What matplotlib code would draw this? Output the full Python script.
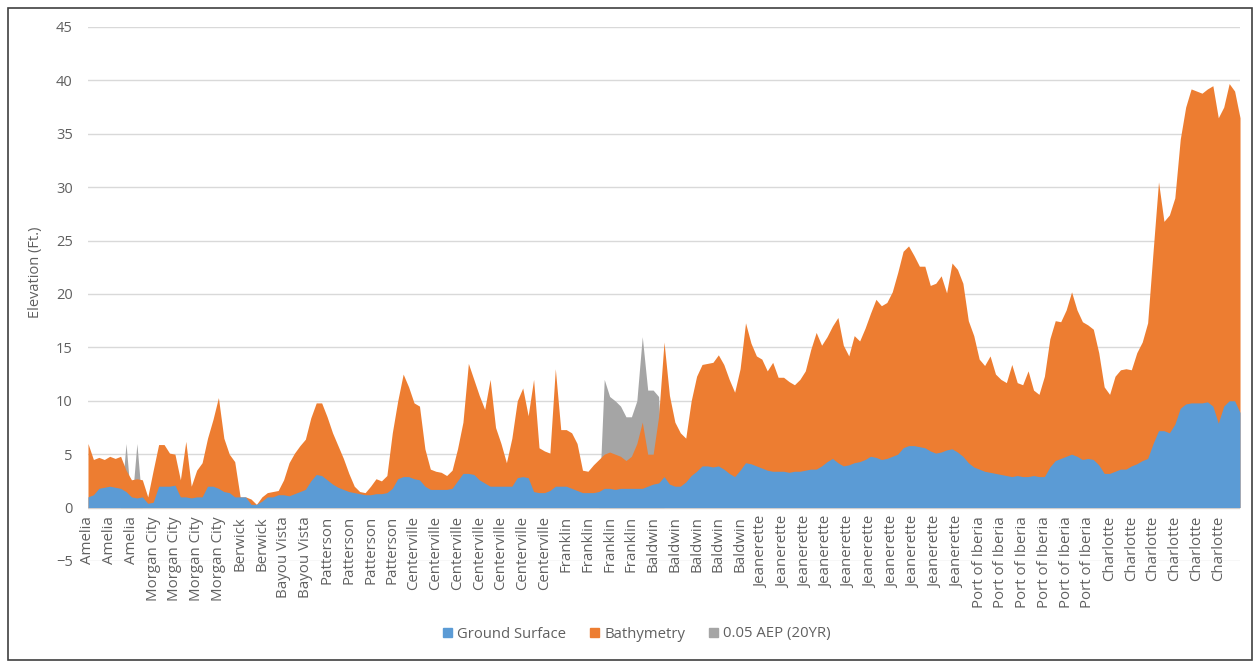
import matplotlib
matplotlib.use("Agg")
import matplotlib.pyplot as plt
import numpy as np
from matplotlib.patches import Rectangle, Patch

plt.rcParams['font.family'] = ['Open Sans', 'DejaVu Sans']

# Category labels (one every 4 samples)
tick_labels = (["Amelia"] * 3 + ["Morgan City"] * 4 + ["Berwick"] * 2 +
               ["Bayou Vista"] * 2 + ["Patterson"] * 4 + ["Centerville"] * 7 +
               ["Franklin"] * 4 + ["Baldwin"] * 5 + ["Jeanerette"] * 10 +
               ["Port of Iberia"] * 6 + ["Charlotte"] * 6)

# Total elevation (top of Bathymetry area), ft
bathymetry = [
    6.0, 4.5, 4.7, 4.5, 4.8, 4.6, 4.8, 3.5, 2.6, 2.7,
    2.6, 1.0, 3.5, 5.9, 5.9, 5.1, 5.0, 2.6, 6.2, 2.0,
    3.5, 4.2, 6.5, 8.25, 10.3, 6.5, 5.0, 4.3, 1.0, 1.0,
    0.8, 0.3, 1.0, 1.4, 1.5, 1.6, 2.6, 4.2, 5.1, 5.8,
    6.4, 8.4, 9.8, 9.8, 8.5, 7.0, 5.8, 4.6, 3.2, 2.0,
    1.5, 1.4, 2.0, 2.7, 2.5, 3.0, 7.0, 10.0, 12.5, 11.3,
    9.8, 9.5, 5.5, 3.6, 3.4, 3.3, 3.0, 3.5, 5.5, 8.0,
    13.5, 12.0, 10.5, 9.2, 12.0, 7.5, 6.0, 4.2, 6.5, 10.0,
    11.2, 8.6, 12.0, 5.6, 5.3, 5.1, 13.0, 7.3, 7.3, 7.0,
    6.0, 3.5, 3.4, 4.0, 4.5, 5.0, 5.2, 5.0, 4.8, 4.4,
    4.8, 6.0, 8.0, 5.0, 5.0, 8.5, 15.5, 10.5, 8.0, 7.0,
    6.5, 10.0, 12.3, 13.4, 13.5, 13.6, 14.3, 13.4, 12.0, 10.8,
    13.0, 17.3, 15.4, 14.2, 13.9, 12.8, 13.6, 12.2, 12.2, 11.8,
    11.5, 12.0, 12.8, 14.8, 16.4, 15.2, 16.0, 17.0, 17.8, 15.2,
    14.2, 16.1, 15.6, 16.8, 18.2, 19.5, 18.9, 19.2, 20.2, 22.0,
    24.0, 24.5, 23.6, 22.6, 22.6, 20.8, 21.0, 21.7, 20.1, 22.9,
    22.3, 21.0, 17.5, 16.1, 13.9, 13.3, 14.2, 12.5, 12.0, 11.7,
    13.4, 11.7, 11.5, 12.8, 11.0, 10.6, 12.3, 15.8, 17.5, 17.4,
    18.5, 20.2, 18.5, 17.4, 17.1, 16.7, 14.5, 11.3, 10.6, 12.3,
    12.9, 13.0, 12.9, 14.5, 15.5, 17.3, 24.0, 30.5, 26.8, 27.4,
    29.0, 34.5, 37.5, 39.2, 39.0, 38.8, 39.2, 39.5, 36.5, 37.5,
    39.7, 39.0, 36.5,
]

# Ground surface elevation, ft
ground_surface = [
    1.0, 1.2, 1.8, 1.9, 2.0, 1.9, 1.8, 1.5, 1.0, 0.9,
    1.0, 0.4, 0.5, 2.0, 2.0, 2.0, 2.1, 1.0, 1.0, 0.9,
    1.0, 1.0, 2.0, 2.0, 1.8, 1.5, 1.4, 1.0, 1.0, 1.0,
    0.3, 0.3, 0.6, 1.0, 1.0, 1.2, 1.2, 1.1, 1.3, 1.5,
    1.7, 2.5, 3.1, 3.0, 2.6, 2.2, 1.9, 1.7, 1.5, 1.4,
    1.3, 1.2, 1.2, 1.3, 1.3, 1.4, 1.8, 2.7, 2.9, 2.9,
    2.7, 2.6, 2.0, 1.7, 1.7, 1.7, 1.7, 1.8, 2.5, 3.2,
    3.2, 3.1, 2.6, 2.3, 2.0, 2.0, 2.0, 2.0, 2.0, 2.8,
    2.9, 2.8, 1.5, 1.4, 1.4, 1.6, 2.0, 2.0, 2.0, 1.8,
    1.6, 1.4, 1.4, 1.4, 1.5, 1.8, 1.8, 1.7, 1.8, 1.8,
    1.8, 1.8, 1.8, 2.0, 2.2, 2.3, 2.9, 2.2, 2.0, 2.0,
    2.4, 3.0, 3.4, 3.9, 3.9, 3.8, 3.9, 3.6, 3.2, 2.9,
    3.5, 4.2, 4.1, 3.9, 3.7, 3.5, 3.4, 3.4, 3.4, 3.3,
    3.4, 3.4, 3.5, 3.6, 3.6, 3.9, 4.3, 4.6, 4.2, 3.9,
    4.0, 4.2, 4.3, 4.5, 4.8, 4.7, 4.5, 4.6, 4.8, 5.0,
    5.6, 5.8, 5.8, 5.7, 5.6, 5.3, 5.1, 5.2, 5.4, 5.5,
    5.2, 4.8, 4.2, 3.8, 3.6, 3.4, 3.3, 3.2, 3.1, 3.0,
    2.9, 3.0, 2.9, 2.9, 3.0, 2.9, 2.9, 3.8, 4.4, 4.6,
    4.8, 5.0, 4.8, 4.5, 4.6, 4.5, 4.0, 3.2, 3.2, 3.4,
    3.6, 3.6, 3.9, 4.1, 4.4, 4.6, 6.0, 7.2, 7.2, 7.0,
    7.8, 9.3, 9.7, 9.8, 9.8, 9.8, 9.9, 9.5, 7.9, 9.5,
    10.0, 10.0, 8.9,
]

# 0.05 AEP (20YR) water surface, ft (only visible where above bathymetry)
aep_20yr = [0.0] * 213
aep_20yr[7] = 6.0
aep_20yr[9] = 6.0
aep_20yr[95:106] = [12.0, 10.4, 10.0, 9.5, 8.5, 8.5, 10.0, 16.0, 11.0, 11.0, 10.4]

yticks = list(range(-5, 50, 5))

fig = plt.figure(figsize=(12.57, 6.66), dpi=100)
ax = fig.add_axes([0.070, 0.1577, 0.9165, 0.8018])

x = np.arange(len(bathymetry))
c_blue, c_orange, c_gray = "#5b9bd5", "#ed7d31", "#a5a5a5"
txt = "#606060"

ax.fill_between(x, 0, aep_20yr, color=c_gray, lw=0, zorder=2)
ax.fill_between(x, 0, bathymetry, color=c_orange, lw=0, zorder=3)
ax.fill_between(x, 0, ground_surface, color=c_blue, lw=0, zorder=4)

ax.set_xlim(0, len(x) - 1)
ax.set_ylim(-5, 45)
ax.set_yticks(yticks)
ax.yaxis.grid(True, color="#d9d9d9", lw=1)
ax.set_axisbelow(True)
for s in ax.spines.values():
    s.set_visible(False)
# category axis crosses the value axis at 0
ax.spines['bottom'].set_position(('data', 0))

tick_pos = np.arange(len(tick_labels)) * 4
ax.set_xticks(tick_pos)
ax.set_xticklabels(tick_labels, rotation=90, fontsize=10.8, color=txt,
                   va="top", ha="center")
ax.tick_params(axis="x", length=0, pad=6)
ax.tick_params(axis="y", length=0, labelsize=10.5, labelcolor=txt, pad=11)

fig.text(35 / 1257, 1 - 272 / 666, "Elevation (Ft.)", rotation=90,
         ha="center", va="center", fontsize=10.5, color=txt)

handles = [Patch(color=c_blue), Patch(color=c_orange), Patch(color=c_gray)]
fig.legend(handles, ["Ground Surface", "Bathymetry", "0.05 AEP (20YR)"],
           loc="center", bbox_to_anchor=(637 / 1257, 1 - 634 / 666), ncol=3,
           frameon=False, fontsize=10.7, handlelength=0.6, handleheight=0.6,
           handletextpad=0.35, columnspacing=1.6, labelcolor=txt)

fig.patches.append(Rectangle((8 / 1257, 6 / 666), 1244 / 1257, 652 / 666,
                             transform=fig.transFigure, fill=False,
                             edgecolor="#404040", lw=1.2))

fig.savefig("out.png", dpi=100)
